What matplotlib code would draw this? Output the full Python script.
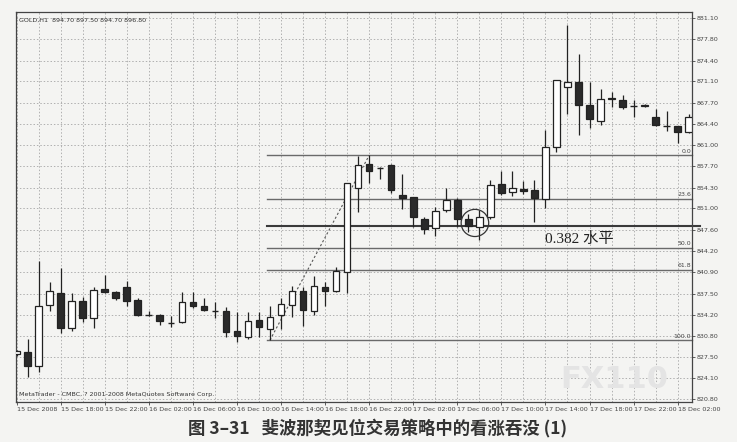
import numpy as np
import matplotlib
matplotlib.use('Agg')
import matplotlib.pyplot as plt
from matplotlib.patches import Ellipse

# hourly GOLD candles, 15 Dec 14:00 .. 18 Dec 03:00
opens = [827.9, 828.3, 826.0, 835.7, 837.6, 832.0, 836.3, 833.6, 838.3, 837.8,
         838.6, 836.5, 834.2, 834.1, 832.9, 833.0, 836.2, 835.5, 834.9, 834.7,
         831.6, 830.6, 833.3, 831.9, 834.1, 835.7, 837.9, 834.7, 838.5, 837.9,
         840.9, 854.3, 858.0, 857.5, 857.9, 853.2, 852.8, 849.4, 847.9, 850.7,
         852.4, 849.3, 848.0, 849.6, 854.8, 853.6, 854.0, 853.9, 852.5, 860.7,
         870.3, 871.0, 867.3, 864.9, 868.5, 868.1, 867.3, 867.2, 865.4, 864.2,
         864.0, 863.1]
highs = [828.6, 830.3, 842.6, 839.3, 841.5, 837.6, 837.0, 838.5, 840.4, 838.0,
         839.5, 836.8, 834.7, 834.3, 833.9, 837.8, 837.8, 836.8, 836.2, 835.4,
         834.6, 834.6, 834.6, 835.5, 836.8, 838.7, 838.5, 840.3, 839.3, 841.7,
         855.1, 859.3, 859.4, 857.6, 858.0, 856.4, 852.8, 849.6, 851.2, 854.2,
         852.6, 850.1, 850.7, 855.5, 856.9, 856.9, 855.3, 855.5, 863.4, 871.4,
         880.0, 875.4, 871.0, 869.9, 869.5, 868.9, 868.1, 867.6, 866.8, 866.4,
         864.0, 866.0]
lows = [827.7, 824.3, 825.1, 834.7, 831.2, 831.6, 833.0, 832.0, 837.6, 836.5,
        835.5, 833.9, 833.9, 832.5, 832.2, 832.8, 835.2, 834.7, 833.6, 830.6,
        829.8, 830.3, 830.6, 830.15, 831.9, 833.8, 832.4, 834.2, 835.5, 837.7,
        837.6, 850.4, 855.0, 855.6, 853.4, 850.9, 848.0, 846.9, 846.6, 850.4,
        848.1, 847.2, 846.0, 849.4, 853.1, 852.9, 853.3, 848.8, 851.0, 859.9,
        865.9, 862.6, 863.7, 864.2, 867.0, 866.7, 865.4, 867.0, 864.0, 863.2,
        861.3, 862.9]
closes = [828.4, 826.0, 835.5, 837.9, 832.0, 836.3, 833.6, 838.1, 837.8, 836.8,
          836.3, 834.1, 834.1, 833.2, 832.8, 836.2, 835.5, 834.9, 834.8, 831.4,
          830.8, 833.2, 832.2, 833.8, 835.8, 837.9, 834.9, 838.7, 837.9, 841.1,
          855.0, 857.8, 857.0, 857.4, 853.9, 852.6, 849.6, 847.7, 850.6, 852.4,
          849.4, 848.2, 849.6, 854.7, 853.4, 854.2, 853.8, 852.6, 860.8, 871.4,
          871.0, 867.3, 865.1, 868.4, 868.3, 867.0, 867.2, 867.4, 864.2, 864.1,
          863.1, 865.4]

price_ticks = [881.10, 877.80, 874.40, 871.10, 867.70, 864.40, 861.00, 857.70,
               854.30, 851.00, 847.60, 844.20, 840.90, 837.50, 834.20, 830.80,
               827.50, 824.10, 820.80]
time_labels = ['15 Dec 2008', '15 Dec 18:00', '15 Dec 22:00', '16 Dec 02:00',
               '16 Dec 06:00', '16 Dec 10:00', '16 Dec 14:00', '16 Dec 18:00',
               '16 Dec 22:00', '17 Dec 02:00', '17 Dec 06:00', '17 Dec 10:00',
               '17 Dec 14:00', '17 Dec 18:00', '17 Dec 22:00', '18 Dec 02:00']

# fibonacci retracement drawn from the swing low to the swing high
fib_low_idx, fib_low = 23, 830.15
fib_high_idx, fib_high = 32, 859.4
fib_levels = [0.0, 23.6, 38.2, 50.0, 61.8, 100.0]

bg = '#f4f4f2'
fig = plt.figure(figsize=(7.37, 4.42), dpi=100, facecolor=bg)
ax = fig.add_axes([16 / 737, 1 - 402 / 442, 676 / 737, 390 / 442], facecolor=bg)

x = np.arange(len(opens))
o = np.array(opens)
c = np.array(closes)

# grid
for gx in range(0, len(opens), 2):
    ax.axvline(gx, color='#b0b0b0', lw=0.7, ls=(0, (1.5, 2)), zorder=0)
for gy in price_ticks:
    ax.axhline(gy, color='#b0b0b0', lw=0.7, ls=(0, (1.5, 2)), zorder=0)

# fib lines
rng = fib_high - fib_low
for lev in fib_levels:
    yv = fib_high - rng * lev / 100
    x_end = 62.0 if lev == 38.2 else 61.3
    lw = 1.5 if lev == 38.2 else 1.0
    col = '#3a3a3a' if lev == 38.2 else '#6a6a6a'
    ax.plot([fib_low_idx - 0.3, x_end], [yv, yv], color=col, lw=lw,
            zorder=1, clip_on=False)
    if lev != 38.2:
        ax.text(61.2, yv + 0.25, f'{lev:.1f}', fontsize=4.5, color='#444',
                ha='right', va='bottom', zorder=3)
ax.plot([fib_low_idx, fib_high_idx], [fib_low, fib_high], color='#555',
        lw=0.8, ls=(0, (2, 2)), zorder=1)

# candles
ax.vlines(x, lows, highs, color='#222', lw=0.9, zorder=2)
up = c >= o
body_h = np.abs(c - o)
bottoms = np.minimum(o, c)
flat = body_h < 0.15
ax.bar(x[up & ~flat], body_h[up & ~flat], bottom=bottoms[up & ~flat], width=0.6,
       color='white', edgecolor='#222', lw=0.9, zorder=3)
ax.bar(x[~up & ~flat], body_h[~up & ~flat], bottom=bottoms[~up & ~flat], width=0.6,
       color='#2a2a2a', edgecolor='#222', lw=0.9, zorder=3)
ax.hlines(c[flat], x[flat] - 0.3, x[flat] + 0.3, color='#222', lw=1.0, zorder=3)

# circled bullish engulfing
ax.add_patch(Ellipse((41.6, 848.7), 2.5, 4.3, fill=False, ec='#333', lw=0.9, zorder=4))
ax.text(48.0, 846.2, '0.382 水平', fontsize=11, color='#222', ha='left', va='center',
        family=['Liberation Serif', 'Noto Sans CJK SC'], zorder=4)

ax.set_xlim(-0.05, 61.3)
ax.set_ylim(820.35, 882.1)

ax.yaxis.tick_right()
ax.set_yticks(price_ticks)
ax.set_yticklabels([f'{t:.2f}' for t in price_ticks], fontsize=4.6, color='#444')
ax.tick_params(axis='y', length=2, width=0.6, pad=1.5, color='#444')
ax.set_xticks(np.arange(0, len(opens), 4))
ax.set_xticklabels(time_labels, fontsize=4.6, color='#444', ha='left')
ax.tick_params(axis='x', length=2, width=0.6, pad=1.5, color='#444')
for s in ax.spines.values():
    s.set_color('#444')
    s.set_linewidth(0.9)

ax.text(0.004, 0.985, 'GOLD,H1  894.70 897.50 894.70 896.80', transform=ax.transAxes,
        fontsize=4.6, color='#333', ha='left', va='top')
ax.text(0.004, 0.012, 'MetaTrader - CMBC, ? 2001-2008 MetaQuotes Software Corp.',
        transform=ax.transAxes, fontsize=4.6, color='#333', ha='left', va='bottom')
ax.text(0.965, 0.02, 'FX110', transform=ax.transAxes, fontsize=22, color='#e4e4e4',
        ha='right', va='bottom', fontweight='bold', zorder=0.5)

fig.text(0.512, 1 - 428 / 442, '图 3–31   斐波那契见位交易策略中的看涨吞没 (1)',
         fontsize=12.5, fontweight='bold', color='#333', ha='center', va='center',
         family=['Noto Sans CJK SC', 'DejaVu Sans'])

fig.savefig('out.png', dpi=100, facecolor=bg)
